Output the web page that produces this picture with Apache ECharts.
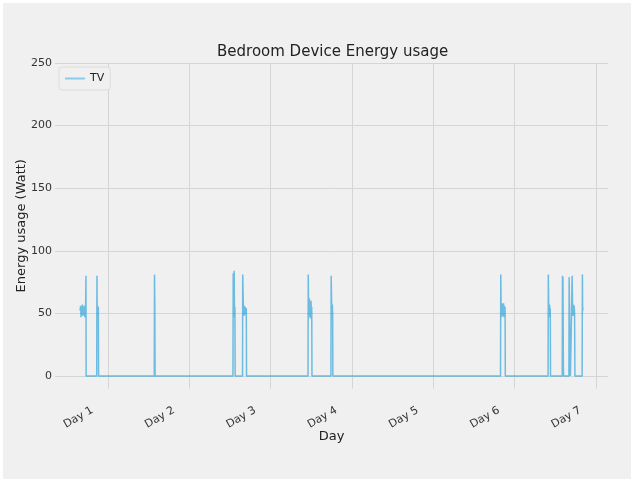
<!DOCTYPE html>
<html><head><meta charset="utf-8">
<script src="https://cdn.jsdelivr.net/npm/echarts@6/dist/echarts.min.js"></script>
<style>html,body{margin:0;padding:0;background:#fff;}#c{position:absolute;left:3px;top:3px;width:628px;height:476px;}</style>
</head><body><div id="c"></div>
<script>
const dayLabels = ['Day 1','Day 2','Day 3','Day 4','Day 5','Day 6','Day 7'];
const dayTicks = [0,1,2,3,4,5,6];
const yTicks = [0,50,100,150,200,250];
// time in days since Day 1 start
const tvTime = [
 -0.344,-0.338,-0.333,-0.327,-0.321,-0.316,-0.310,-0.304,-0.299,-0.293,-0.287,-0.282,-0.277,-0.272,-0.270,
 -0.140,-0.137,-0.134,-0.131,-0.128,-0.124,-0.120,-0.117,
 0.568,0.571,0.575,0.578,
 1.536,1.539,1.542,1.545,1.548,1.551,1.554,1.557,1.560,1.563,
 1.654,1.656,1.664,1.670,1.676,1.682,1.688,1.694,1.700,1.703,
 2.459,2.462,2.466,2.471,2.476,2.481,2.486,2.491,2.496,2.501,2.505,2.508,
 2.741,2.744,2.750,2.754,2.758,2.762,2.765,
 4.827,4.830,4.834,4.839,4.844,4.849,4.854,4.859,4.864,4.869,4.874,4.879,4.883,4.886,
 5.412,5.415,5.420,5.425,5.430,5.435,5.439,5.442,
 5.586,5.589,5.595,5.600,5.603,
 5.668,5.671,5.681,5.684,5.687,
 5.705,5.708,5.713,5.718,5.723,5.728,5.733,5.738,5.742,
 5.831,5.834,5.837,5.840
];
const tvWatt = [
 52,56,47,55,49,57,48,54,50,56,47,55,51,80,0,
 0,80,54,48,56,50,55,0,
 0,81,56,0,
 0,82,50,57,47,84,56,48,55,0,
 0,81,55,48,56,49,55,50,54,0,
 0,81,58,47,62,48,57,46,60,49,55,0,
 0,80,56,47,57,50,0,
 0,81,56,47,58,48,57,49,58,47,56,50,55,0,
 0,81,55,47,57,49,54,0,
 0,80,78,8,0,
 0,79,78,7,0,
 0,80,56,48,57,49,56,50,0,
 0,81,52,55
];
const data = tvTime.map((t,i)=>[t,tvWatt[i]]);
const FONT = 'DejaVu Sans';
const chart = echarts.init(document.getElementById('c'));
chart.setOption({
  backgroundColor:'#f0f0f0',
  animation:false,
  textStyle:{fontFamily:FONT},
  title:{text:'Bedroom Device Energy usage',left:209,top:37,
    textStyle:{fontFamily:FONT,fontSize:15,fontWeight:'normal',color:'#222'}},
  legend:{left:56,top:64,orient:'vertical',data:['TV'],
    icon:'rect',itemWidth:20,itemHeight:2,padding:[6,6,6,6],
    itemStyle:{color:'#8ccbeb'},
    borderColor:'#dddddd',borderWidth:1,borderRadius:3,backgroundColor:'#f0f0f0',
    textStyle:{fontFamily:FONT,fontSize:11,color:'#222'}},
  grid:{left:52,right:23,top:60,bottom:90.5,containLabel:false,outerBoundsMode:'none'},
  xAxis:{type:'value',min:-0.653,max:6.149,
    name:'Day',nameLocation:'middle',nameGap:42,nameMoveOverlap:false,
    nameTextStyle:{fontFamily:FONT,fontSize:13,color:'#222'},
    axisLine:{show:false},
    axisTick:{show:false,customValues:dayTicks},
    axisLabel:{customValues:dayTicks,rotate:30,margin:12,fontSize:11,color:'#333',fontFamily:FONT,
      padding:[0,18,0,0],
      formatter:v=>dayLabels[Math.round(v)]},
    splitLine:{show:true,lineStyle:{color:'#d5d5d5',width:1}}},
  yAxis:{type:'value',min:-10,max:250,
    name:'Energy usage (Watt)',nameLocation:'middle',nameGap:27,nameMoveOverlap:false,
    nameTextStyle:{fontFamily:FONT,fontSize:13,color:'#222'},
    axisLine:{show:false},
    axisTick:{show:false,customValues:yTicks},
    axisLabel:{customValues:yTicks,margin:3,fontSize:11,color:'#333',fontFamily:FONT},
    splitLine:{show:true,lineStyle:{color:'#d5d5d5',width:1}}},
  series:[{name:'TV',type:'line',data:data,showSymbol:false,symbol:'none',
    color:'#008fd5',
    lineStyle:{color:'#008fd5',width:1.5,opacity:0.55}}]
});
</script></body></html>
